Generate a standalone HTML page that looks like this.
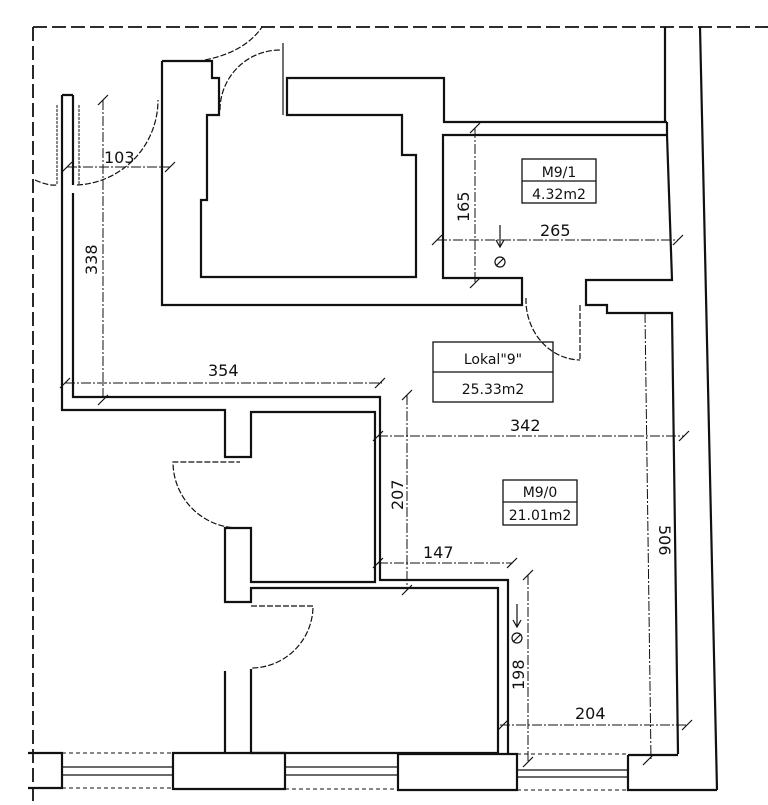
<!DOCTYPE html>
<html><head><meta charset="utf-8"><style>
html,body{margin:0;padding:0;background:#fff;}
svg{display:block;}
text{font-family:"DejaVu Sans","Liberation Sans",sans-serif;fill:#111;}
</style></head><body>
<svg width="768" height="805" viewBox="0 0 768 805" xmlns="http://www.w3.org/2000/svg">
<g fill="none" stroke="#111" stroke-width="2.2" stroke-linejoin="miter">
<path d="M33 27 H768" stroke-dasharray="14 5" stroke-width="1.8"/>
<path d="M33 27 V805" stroke-dasharray="14 5" stroke-width="1.8"/>
<path d="M665 27 V122"/>
<path d="M700 27 L717 790"/>
<path d="M62 95 H73 M62 95 V410 H225 V457 H251 V412 H375 V582 H251 V528 H225 V602 H251 V588 H498 V754"/>
<path d="M73 95 V185 M73 193 V385"/>
<path d="M73 385 V397 H380 V580 H508 V754"/>
<path d="M57 105 V185 M79 105 V185" stroke-width="1" stroke-dasharray="3 1"/>
<path d="M162 61 H212 V78 H219 V115 H207 V200 H201 V277 H416 V155 H402 V115 H287 V78 H444 V122 H667"/>
<path d="M162 61 V305 H522 V278 H443 V135 H667"/>
<path d="M667 122 V135" />
<path d="M667 135 L672 280 H586 V305 H607 V313 H672 L678 754"/>
<path d="M283 43 V115" stroke-width="1.2"/>
<path d="M225 671 V753 M251 669 V753 H498"/>
<path d="M28 753 H62 V788 H28 M173 753 H285 V789 H173 Z M398 754 H517 V790 H398 Z M628 755 H678 M628 755 V790 H717"/>
<path d="M62 767 H173 M62 775 H173 M285 767 H398 M285 775 H398 M517 770 H628 M517 777 H628" stroke-width="1.2"/>
<path d="M62 753 H173 M62 788 H173 M285 753 H398 M285 789 H398 M517 754 H628 M517 790 H628" stroke-width="1" stroke-dasharray="4 3"/>
<g stroke-width="1.2" stroke-dasharray="6 2">
<path d="M77 185 A85 85 0 0 0 158 100"/>
<path d="M35 180 Q48 186 57 185"/>
<path d="M220 110 A60 60 0 0 1 280 50"/>
<path d="M205 60 Q245 52 262 27"/>
<path d="M526 298 A55 60 0 0 0 580 360"/>
<path d="M580 305 V360"/>
<path d="M240 528 A66 66 0 0 1 173 462 H240"/>
<path d="M251 606 H313 A62 62 0 0 1 251 668"/>
</g>
<g stroke-width="1" stroke-dasharray="10 2 2 2">
<path d="M67 167 H170"/>
<path d="M103 100 V400"/>
<path d="M65 383 H382"/>
<path d="M475 128 V283"/>
<path d="M437 240 H678"/>
<path d="M378 436 H684"/>
<path d="M407 395 V590"/>
<path d="M378 563 H512"/>
<path d="M528 575 V762"/>
<path d="M500 725 H688"/>
<path d="M645 313 L651 760"/>
</g>
<g stroke-width="1.2">
<path d="M62 172 L72 162 M165 172 L175 162 M98 105 L108 95 M98 405 L108 395 M60 388 L70 378 M375 388 L385 378 M470 133 L480 123 M470 288 L480 278 M432 245 L442 235 M673 245 L683 235 M373 441 L383 431 M679 441 L689 431 M402 400 L412 390 M402 595 L412 585 M373 568 L383 558 M507 568 L517 558 M523 580 L533 570 M523 767 L533 757 M498 730 L508 720 M682 730 L692 720 M643 765 L653 755"/>
</g>
<g stroke-width="1.3">
<rect x="522" y="159" width="74" height="44"/><path d="M522 181 H596"/>
<rect x="433" y="342" width="120" height="60"/><path d="M433 372 H553"/>
<rect x="503" y="480" width="74" height="45"/><path d="M503 502 H577"/>
</g>
<g stroke-width="1.2">
<path d="M500 225 V246 M496 240 L500 247 L504 240"/>
<circle cx="500" cy="262" r="5"/><path d="M496 266 L504 258"/>
<path d="M517 604 V626 M513 620 L517 627 L521 620"/>
<circle cx="517" cy="638" r="5"/><path d="M513 642 L521 634"/>
</g>
</g>
<g font-size="16">
<text x="104" y="163">103</text>
<text x="208" y="376">354</text>
<text x="540" y="236">265</text>
<text x="510" y="431">342</text>
<text x="423" y="558">147</text>
<text x="575" y="719">204</text>
<text transform="translate(97,275) rotate(-90)">338</text>
<text transform="translate(469,222) rotate(-90)">165</text>
<text transform="translate(403,510) rotate(-90)">207</text>
<text transform="translate(524,690) rotate(-90)">198</text>
<text transform="translate(659,525) rotate(90)">506</text>
</g>
<g font-size="14" text-anchor="middle">
<text x="559" y="177">M9/1</text>
<text x="559" y="199">4.32m2</text>
<text x="493" y="364">Lokal"9"</text>
<text x="493" y="394">25.33m2</text>
<text x="540" y="497">M9/0</text>
<text x="540" y="520">21.01m2</text>
</g>
</svg>
</body></html>
